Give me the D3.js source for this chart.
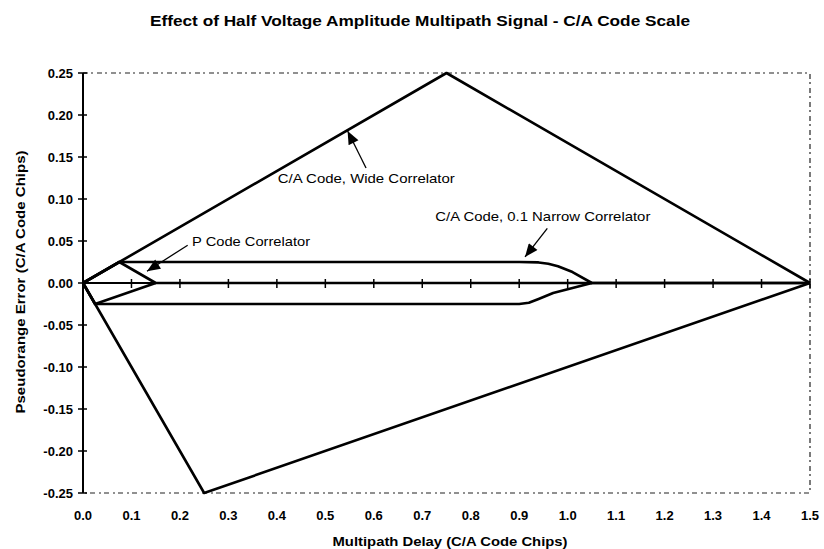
<!DOCTYPE html>
<html>
<head>
<meta charset="utf-8">
<script src="https://cdn.jsdelivr.net/npm/d3@7"></script>
<style>
  body { margin: 0; background: #fff; }
  svg { display: block; font-family: "Liberation Sans", Arial, sans-serif; }
  .tick-label { font-size: 13px; font-weight: bold; }
  .axis-title { font-size: 13px; font-weight: bold; }
  .note { font-size: 13px; }
</style>
</head>
<body>
<div id="chart"></div>
<script>
// series (C/A code chips)
const wideUpperX = [0, 0.75, 1.5];
const wideUpperY = [0, 0.25, 0];
const wideLowerX = [0, 0.25, 1.5];
const wideLowerY = [0, -0.25, 0];

const narrowUpperX = [0, 0.075, 0.9, 0.94, 0.96, 0.98, 1.01, 1.05, 1.5];
const narrowUpperY = [0, 0.025, 0.025, 0.0245, 0.023, 0.02, 0.013, 0, 0];
const narrowLowerX = [0, 0.025, 0.9, 0.92, 0.94, 0.97, 1.05];
const narrowLowerY = [0, -0.025, -0.025, -0.0235, -0.019, -0.012, 0];

const pUpperX = [0, 0.075, 0.15, 1.5];
const pUpperY = [0, 0.025, 0, 0];
const pLowerX = [0, 0.025, 0.15];
const pLowerY = [0, -0.025, 0];

const xTicks = [0, 0.1, 0.2, 0.3, 0.4, 0.5, 0.6, 0.7, 0.8, 0.9, 1.0, 1.1, 1.2, 1.3, 1.4, 1.5];
const yTicks = [0.25, 0.2, 0.15, 0.1, 0.05, 0, -0.05, -0.1, -0.15, -0.2, -0.25];

const titleText = "Effect of Half Voltage Amplitude Multipath Signal - C/A Code Scale";
const xTitle = "Multipath Delay (C/A Code Chips)";
const yTitle = "Pseudorange Error (C/A Code Chips)";

// annotations: label, label position, arrow start and arrow end in data units
const notes = [
  { text: "C/A Code, Wide Correlator", lx: 0.402, ly: 0.124, len: 177, from: [0.584, 0.137], to: [0.546, 0.181] },
  { text: "C/A Code, 0.1 Narrow Correlator", lx: 0.727, ly: 0.079, len: 215, from: [0.958, 0.065], to: [0.912, 0.031] },
  { text: "P Code Correlator", lx: 0.225, ly: 0.05, len: 118, from: [0.216, 0.045], to: [0.132, 0.014] }
];

const width = 824, height = 549;

const x = d3.scaleLinear().domain([0, 1.5]).range([83, 810]);
const y = d3.scaleLinear().domain([-0.25, 0.25]).range([493, 73]);

const svg = d3.select("#chart").append("svg")
  .attr("width", width)
  .attr("height", height);

svg.append("defs").append("marker")
  .attr("id", "head")
  .attr("viewBox", "0 0 12 10")
  .attr("refX", 12)
  .attr("refY", 5)
  .attr("markerWidth", 14)
  .attr("markerHeight", 11)
  .attr("markerUnits", "userSpaceOnUse")
  .attr("orient", "auto")
  .append("path")
  .attr("d", "M0,0 L12,5 L0,10 Z")
  .attr("fill", "#000");

// title
svg.append("text")
  .attr("x", 420)
  .attr("y", 26)
  .attr("text-anchor", "middle")
  .attr("textLength", 540)
  .attr("lengthAdjust", "spacingAndGlyphs")
  .style("font-size", "15px")
  .style("font-weight", "bold")
  .text(titleText);

// dashed plot border
const border = d3.line()([
  [x(0), y(0.25)], [x(1.5), y(0.25)], [x(1.5), y(-0.25)], [x(0), y(-0.25)]
]);
svg.append("path")
  .attr("d", border)
  .attr("fill", "none")
  .attr("stroke", "#222")
  .attr("stroke-width", 1.2)
  .attr("stroke-dasharray", "5,3,2,4");

// y axis through x = 0
const yAxis = svg.append("g");
yAxis.append("line")
  .attr("x1", x(0)).attr("x2", x(0))
  .attr("y1", y(0.25)).attr("y2", y(-0.25))
  .attr("stroke", "#000").attr("stroke-width", 2);
yAxis.selectAll("line.tk")
  .data(yTicks)
  .enter()
  .append("line")
  .classed("tk", true)
  .attr("x1", x(0) - 5).attr("x2", x(0) + 4)
  .attr("y1", d => y(d)).attr("y2", d => y(d))
  .attr("stroke", "#000").attr("stroke-width", 1.5);
yAxis.selectAll("text")
  .data(yTicks)
  .enter()
  .append("text")
  .classed("tick-label", true)
  .attr("x", x(0) - 10)
  .attr("y", d => y(d))
  .attr("dy", "0.35em")
  .attr("text-anchor", "end")
  .text(d => d3.format(".2f")(d).replace("−", "-"));

// x axis through y = 0, labels below the plot
const xAxis = svg.append("g");
xAxis.append("line")
  .attr("x1", x(0)).attr("x2", x(1.5))
  .attr("y1", y(0)).attr("y2", y(0))
  .attr("stroke", "#000").attr("stroke-width", 2);
xAxis.selectAll("line.tk")
  .data(xTicks)
  .enter()
  .append("line")
  .classed("tk", true)
  .attr("x1", d => x(d)).attr("x2", d => x(d))
  .attr("y1", y(0) - 4).attr("y2", y(0) + 5)
  .attr("stroke", "#000").attr("stroke-width", 1.5);
xAxis.selectAll("text")
  .data(xTicks)
  .enter()
  .append("text")
  .classed("tick-label", true)
  .attr("x", d => x(d))
  .attr("y", 515)
  .attr("dy", "0.35em")
  .attr("text-anchor", "middle")
  .text(d => d3.format(".1f")(d));

svg.append("text")
  .classed("axis-title", true)
  .attr("x", 450)
  .attr("y", 541)
  .attr("dy", "0.35em")
  .attr("text-anchor", "middle")
  .attr("textLength", 235)
  .attr("lengthAdjust", "spacingAndGlyphs")
  .text(xTitle);

svg.append("text")
  .classed("axis-title", true)
  .attr("transform", "translate(20," + 282 + ") rotate(-90)")
  .attr("dy", "0.35em")
  .attr("text-anchor", "middle")
  .attr("textLength", 263)
  .attr("lengthAdjust", "spacingAndGlyphs")
  .text(yTitle);

// data lines
const series = [
  [wideUpperX, wideUpperY],
  [wideLowerX, wideLowerY],
  [narrowUpperX, narrowUpperY],
  [narrowLowerX, narrowLowerY],
  [pUpperX, pUpperY],
  [pLowerX, pLowerY]
];

const line = d3.line()
  .x(d => x(d[0]))
  .y(d => y(d[1]));

svg.append("g")
  .selectAll("path")
  .data(series.map(s => s[0].map((v, i) => [v, s[1][i]])))
  .enter()
  .append("path")
  .attr("d", line)
  .attr("fill", "none")
  .attr("stroke", "#000")
  .attr("stroke-width", 2.6)
  .attr("stroke-linejoin", "round");

// annotations
const ann = svg.append("g");
ann.selectAll("line")
  .data(notes)
  .enter()
  .append("line")
  .attr("x1", d => x(d.from[0])).attr("y1", d => y(d.from[1]))
  .attr("x2", d => x(d.to[0])).attr("y2", d => y(d.to[1]))
  .attr("stroke", "#000")
  .attr("stroke-width", 1.3)
  .attr("marker-end", "url(#head)");
ann.selectAll("text")
  .data(notes)
  .enter()
  .append("text")
  .classed("note", true)
  .attr("x", d => x(d.lx))
  .attr("y", d => y(d.ly))
  .attr("dy", "0.35em")
  .attr("textLength", d => d.len)
  .attr("lengthAdjust", "spacingAndGlyphs")
  .text(d => d.text);
</script>
</body>
</html>
